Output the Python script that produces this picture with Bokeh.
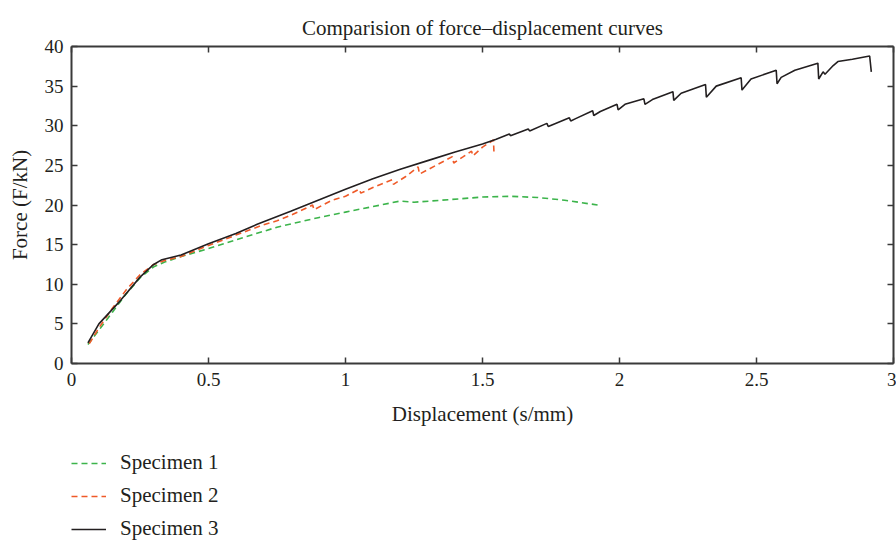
from bokeh.plotting import figure
from bokeh.layouts import column
from bokeh.models import (LinearAxis, FixedTicker, CustomJSTickFormatter, Legend, LegendItem, Range1d)
from bokeh.embed import file_html
from bokeh.resources import INLINE

# ---- data ----
s1_x = [0.06, 0.10, 0.15, 0.20, 0.25, 0.30, 0.34, 0.40, 0.50, 0.60, 0.75, 0.90, 1.00, 1.10,
        1.20, 1.25, 1.35, 1.50, 1.60, 1.70, 1.80, 1.92]
s1_y = [2.4, 4.2, 6.5, 8.8, 10.8, 12.2, 12.8, 13.5, 14.5, 15.6, 17.2, 18.4, 19.1, 19.8,
        20.5, 20.35, 20.6, 21.0, 21.1, 20.95, 20.6, 20.0]

s2_x = [0.065, 0.10, 0.15, 0.20, 0.25, 0.30, 0.34, 0.40, 0.50, 0.60, 0.70, 0.75, 0.80, 0.88,
        0.885, 0.95, 1.00, 1.05, 1.056, 1.10, 1.17, 1.175, 1.22, 1.265, 1.27, 1.33, 1.39,
        1.395, 1.43, 1.46, 1.465, 1.50, 1.54, 1.542]
s2_y = [2.5, 4.5, 7.0, 9.3, 11.2, 12.5, 13.0, 13.5, 14.9, 16.2, 17.5, 18.0, 18.7, 20.0,
        19.4, 20.6, 21.1, 22.0, 21.5, 22.2, 23.2, 22.6, 23.6, 24.8, 23.9, 25.0, 26.1,
        25.3, 26.1, 26.8, 26.2, 27.3, 28.2, 26.5]

s3_x = [0.06, 0.10, 0.18, 0.25, 0.30, 0.33, 0.40, 0.50, 0.60, 0.68, 0.80, 0.90, 1.00, 1.10,
        1.20, 1.30, 1.40, 1.50, 1.55, 1.598, 1.602, 1.667, 1.672, 1.735, 1.74, 1.76, 1.817,
        1.822, 1.84, 1.902, 1.906, 1.93, 1.991, 1.995, 2.02, 2.089, 2.093, 2.12, 2.195,
        2.198, 2.225, 2.314, 2.317, 2.353, 2.444, 2.447, 2.48, 2.572, 2.575, 2.59, 2.64,
        2.724, 2.727, 2.743, 2.75, 2.78, 2.797, 2.85, 2.913, 2.919]
s3_y = [2.6, 5.0, 8.0, 10.9, 12.5, 13.1, 13.7, 15.1, 16.4, 17.6, 19.2, 20.6, 22.0, 23.3,
        24.5, 25.6, 26.7, 27.7, 28.3, 28.95, 28.75, 29.6, 29.35, 30.3, 29.9, 30.2, 31.0,
        30.6, 30.9, 31.9, 31.3, 31.8, 32.7, 32.0, 32.7, 33.4, 32.7, 33.3, 34.3,
        33.2, 34.1, 35.2, 33.6, 35.0, 36.05, 34.5, 35.9, 37.0, 35.3, 36.1, 37.0,
        37.9, 35.9, 36.8, 36.5, 37.6, 38.1, 38.4, 38.8, 36.8]

series_names = ["Specimen 1", "Specimen 2", "Specimen 3"]
series_colors = ["#3cb44b", "#ef5a28", "#231f20"]
series_dash = ["6 4", "6 4", "solid"]
x_ticks = [0, 0.5, 1, 1.5, 2, 2.5, 3]
y_ticks = [0, 5, 10, 15, 20, 25, 30, 35, 40]

FONT = "Liberation Serif"
TXT = "#231f20"
AX = "#3a3a3a"

p = figure(width=896, height=430, output_backend="svg", toolbar_location=None,
           x_range=Range1d(0, 3), y_range=Range1d(0, 40),
           min_border_left=71, min_border_right=3, min_border_top=46, min_border_bottom=67,
           title="Comparision of force\u2013displacement curves")
p.outline_line_color = None
p.xgrid.grid_line_color = None
p.ygrid.grid_line_color = None
p.background_fill_color = "white"
p.border_fill_color = "white"

p.title.align = "center"
p.title.text_font = FONT
p.title.text_font_style = "normal"
p.title.text_font_size = "21px"
p.title.text_color = TXT
p.title.offset = 0
p.title.standoff = 14

fmt = CustomJSTickFormatter(code="return String(tick);")
blank = CustomJSTickFormatter(code="return '';")

for ax, ticks in ((p.xaxis[0], x_ticks), (p.yaxis[0], y_ticks)):
    ax.ticker = FixedTicker(ticks=ticks)
    ax.formatter = fmt
    ax.minor_tick_line_color = None
    ax.major_tick_in = 6
    ax.major_tick_out = 0
    ax.axis_line_color = AX
    ax.axis_line_width = 2
    ax.major_tick_line_color = AX
    ax.major_tick_line_width = 1.5
    ax.major_label_text_font = FONT
    ax.major_label_text_font_size = "19px"
    ax.major_label_text_color = TXT
    ax.axis_label_text_font = FONT
    ax.axis_label_text_font_size = "21px"
    ax.axis_label_text_font_style = "normal"
    ax.axis_label_text_color = TXT

p.xaxis[0].axis_label = "Displacement (s/mm)"
p.yaxis[0].axis_label = "Force (F/kN)"
p.xaxis[0].major_label_standoff = 9
p.xaxis[0].axis_label_standoff = 13
p.yaxis[0].major_label_standoff = 8
p.yaxis[0].axis_label_standoff = 10

top = LinearAxis(ticker=FixedTicker(ticks=x_ticks), formatter=blank,
                 minor_tick_line_color=None, major_tick_in=6, major_tick_out=0,
                 axis_line_color=AX, axis_line_width=2, major_tick_line_color=AX,
                 major_tick_line_width=1.5, major_label_standoff=0)
right = LinearAxis(ticker=FixedTicker(ticks=y_ticks), formatter=blank,
                   minor_tick_line_color=None, major_tick_in=6, major_tick_out=0,
                   axis_line_color=AX, axis_line_width=2, major_tick_line_color=AX,
                   major_tick_line_width=1.5, major_label_standoff=0)
p.add_layout(top, "above")
p.add_layout(right, "right")
# invisible spacer that lifts the title away from the frame
gap = LinearAxis(ticker=FixedTicker(ticks=[]), formatter=blank,
                 minor_tick_line_color=None, major_tick_in=0, major_tick_out=7,
                 axis_line_color=None, major_tick_line_color=None, major_label_standoff=0)
p.add_layout(gap, "above")

p.line(s1_x, s1_y, line_color=series_colors[0], line_width=1.6, line_dash=series_dash[0])
p.line(s2_x, s2_y, line_color=series_colors[1], line_width=1.6, line_dash=series_dash[1])
p.line(s3_x, s3_y, line_color=series_colors[2], line_width=1.6, line_dash=series_dash[2])

# legend panel beneath the chart (its lines lie outside its view; only the legend shows)
lg = figure(width=896, height=111, output_backend="svg", toolbar_location=None,
            x_axis_type=None, y_axis_type=None, min_border=0,
            x_range=Range1d(-20, -19), y_range=Range1d(-20, -19))
lg.outline_line_color = None
lg.xgrid.grid_line_color = None
lg.ygrid.grid_line_color = None
items = []
for name, col, dash, xs, ys in zip(series_names, series_colors, series_dash,
                                   (s1_x, s2_x, s3_x), (s1_y, s2_y, s3_y)):
    r = lg.line(x=xs, y=ys, line_color=col, line_width=1.6, line_dash=dash)
    items.append(LegendItem(label=name, renderers=[r]))
legend = Legend(items=items, location=(0, 0), border_line_color=None, background_fill_alpha=0,
                glyph_width=35, glyph_height=20, label_height=20, spacing=8,
                label_standoff=14, padding=0, margin=0,
                label_text_font=FONT, label_text_font_size="21px", label_text_color=TXT)
lg.add_layout(legend, "center")

open("out.html", "w").write(file_html(column(p, lg, spacing=0), INLINE))
